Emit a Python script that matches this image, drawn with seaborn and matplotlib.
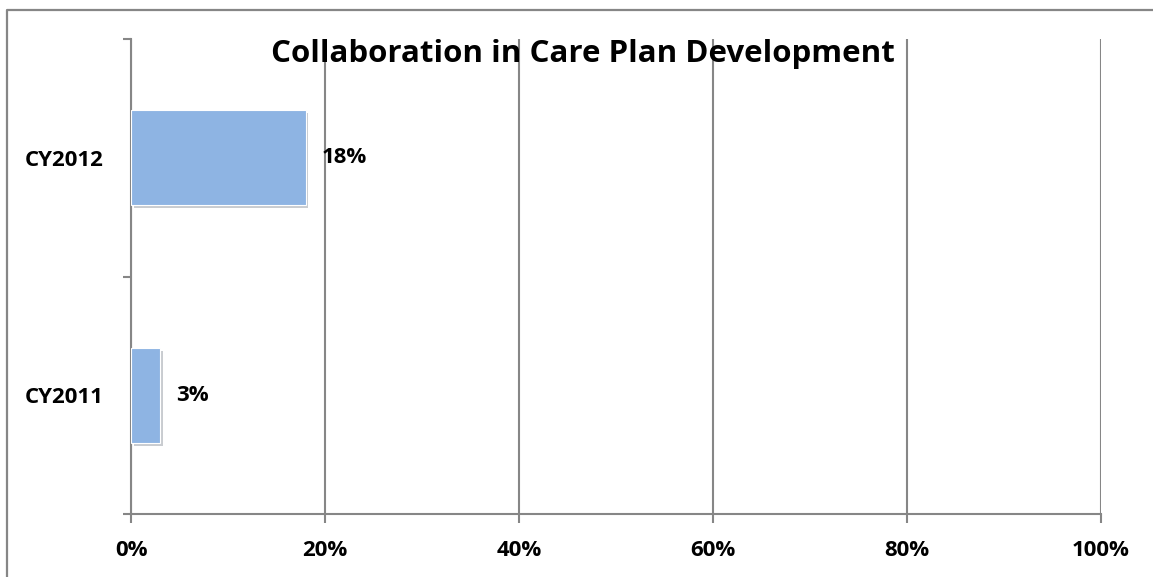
import matplotlib
matplotlib.use("Agg")
import matplotlib.pyplot as plt
import matplotlib.patheffects as pe
from matplotlib.lines import Line2D
from matplotlib.ticker import FixedLocator, PercentFormatter
import seaborn as sns
import pandas as pd

# data
categories = ["CY2012", "CY2011"]
values = [18, 3]
value_labels = ["18%", "3%"]
x_ticks = [0, 20, 40, 60, 80, 100]
title = "Collaboration in Care Plan Development"

bar_color = "#8EB4E3"
gray = "#868686"

sns.set_theme(style="white")
plt.rcParams["font.family"] = ["Open Sans", "DejaVu Sans"]
plt.rcParams["font.weight"] = "bold"

df = pd.DataFrame({"year": categories, "pct": values})

fig = plt.figure(figsize=(11.53, 5.77), dpi=100)
ax = fig.add_axes([131 / 1153, 1 - 514 / 577, 970 / 1153, 475 / 577])

sns.barplot(data=df, x="pct", y="year", orient="h", color=bar_color,
            width=0.40, saturation=1, ax=ax, zorder=3)

for bar in ax.patches:
    bar.set_edgecolor("white")
    bar.set_linewidth(0.8)
    bar.set_path_effects([pe.SimplePatchShadow(offset=(2, -2), alpha=0.25),
                          pe.Normal()])

for bar, lab in zip(ax.patches, value_labels):
    ax.annotate(lab, (bar.get_width(), bar.get_y() + bar.get_height() / 2),
                xytext=(16, 0), textcoords="offset pixels",
                va="center", ha="left", fontsize=16, fontweight="bold",
                color="black")

ax.set_xlim(0, 100)
ax.set_ylim(1.5, -0.5)
ax.xaxis.set_major_locator(FixedLocator(x_ticks))
ax.xaxis.set_major_formatter(PercentFormatter(decimals=0))
ax.grid(axis="x", color=gray, linewidth=1.5, zorder=0)
ax.set_axisbelow(True)

# category tick marks sit between categories
ax.yaxis.set_minor_locator(FixedLocator([-0.5, 0.5, 1.5]))
ax.tick_params(axis="y", which="major", length=0, pad=20, labelsize=16,
               labelcolor="black")
ax.tick_params(axis="y", which="minor", left=True, length=6, width=1.5,
               color=gray)
ax.tick_params(axis="x", which="major", bottom=True, length=6.5, width=1.5,
               color=gray, pad=12, labelsize=16, labelcolor="black")

for side in ["top", "right"]:
    ax.spines[side].set_visible(False)
for side in ["left", "bottom"]:
    ax.spines[side].set_color(gray)
    ax.spines[side].set_linewidth(1.5)

ax.set_xlabel("")
ax.set_ylabel("")

fig.text(0.506, 1 - 54 / 577, title, ha="center", va="center",
         fontsize=22.5, fontweight="bold", color="black")

# chart border (only top and left visible in the crop)
fig.add_artist(Line2D([6.5 / 1153, 6.5 / 1153, 1], [0, 1 - 9.5 / 577, 1 - 9.5 / 577],
                      transform=fig.transFigure, color=gray, linewidth=1.6))

fig.savefig("out.png", dpi=100)
